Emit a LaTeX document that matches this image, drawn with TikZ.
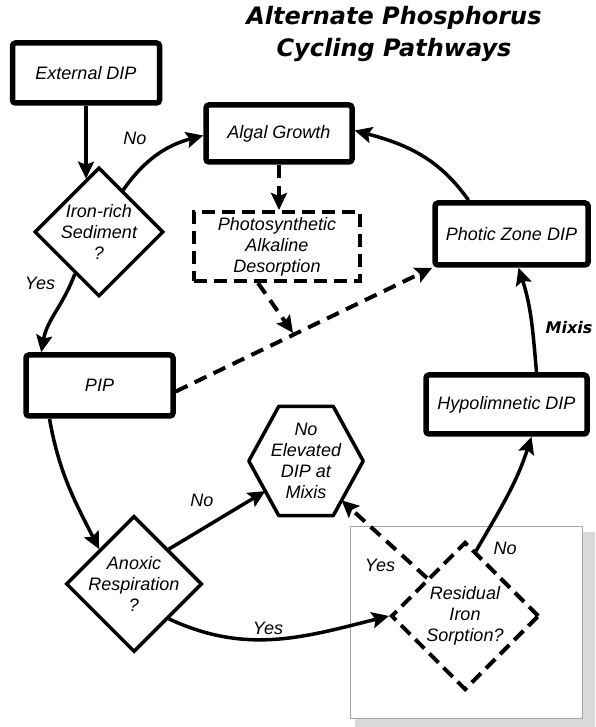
\documentclass[tikz,border=0pt]{standalone}
\usepackage{fontspec}
\setmainfont{Liberation Sans}
\newfontfamily\titlefont{DejaVu Sans}
\usetikzlibrary{arrows.meta,shapes.geometric,calc}
\tikzset{
  txt/.style={font=\itshape\fontsize{18}{21}\selectfont, align=center},
  box/.style={txt, draw, line width=5.5pt, rounded corners=3pt, inner sep=0pt},
  dbox/.style={txt, draw, line width=4pt, dash pattern=on 13pt off 7pt, inner sep=0pt},
  dia/.style={draw, diamond, line width=3.5pt, inner sep=0pt, minimum width=#1, minimum height=#1},
  ddia/.style={dia=#1, line width=4pt, dash pattern=on 13pt off 7pt},
  dtext/.style={label={[txt]center:#1}},
  conn/.style={line width=3.5pt, -{Stealth[length=17pt,width=16pt,inset=3pt]}},
  dconn/.style={conn, line width=4pt, dash pattern=on 13pt off 8pt},
  lbl/.style={txt},
  ttl/.style={font=\titlefont\bfseries\itshape\fontsize{24}{30}\selectfont},
}
\begin{document}
\begin{tikzpicture}[x=1pt,y=1pt]
\fill[white] (0,0) rectangle (595,727);
\useasboundingbox (0,0) rectangle (595,727);
% faint scanned frame
\fill[gray!30] (582,0) rectangle (595,195);
\fill[gray!30] (355,0) rectangle (595,9);
\draw[gray!70, line width=0.6pt] (350,9) rectangle (582,201);

% title
\node[ttl] (t1) at (394,709) {Alternate Phosphorus};
\node[ttl] (t2) at (394,677) {Cycling Pathways};

% nodes
\node[box, minimum width=147pt, minimum height=60pt] (ext) at (86,654) {External DIP};
\node[box, minimum width=146pt, minimum height=57pt] (algal) at (279,593.5) {Algal Growth};
\node[dbox, minimum width=166pt, minimum height=69pt] (photo) at (277,480.5) {Photosynthetic\\Alkaline\\Desorption};
\node[dia=129pt, dtext={Iron-rich\\Sediment\\?}] (iron) at (99,495) {};
\node[box, minimum width=153pt, minimum height=62pt] (photic) at (511.5,493) {Photic Zone DIP};
\node[box, minimum width=147pt, minimum height=61pt] (pip) at (99.5,341.5) {PIP};
\node[txt, minimum width=114pt, minimum height=109pt, inner sep=0pt] (hex) at (306,266) {No\\Elevated\\DIP at\\Mixis};
\draw[line width=3.5pt, line join=round] (hex.west) -- ([xshift=30pt]hex.north west) -- ([xshift=-30pt]hex.north east) -- (hex.east) -- ([xshift=-30pt]hex.south east) -- ([xshift=30pt]hex.south west) -- cycle;
\node[box, minimum width=161pt, minimum height=59pt] (hypo) at (506.5,322.5) {Hypolimnetic DIP};
\node[dia=136pt, dtext={Anoxic\\Respiration\\?}] (anox) at (134,143) {};
\node[ddia=148pt, dtext={Residual\\Iron\\Sorption?}] (resid) at (465,111) {};

\coordinate (hexbl) at ($(hex.west)!0.55!([xshift=30pt]hex.south west)$);
\coordinate (hexbr) at ($(hex.east)!0.72!([xshift=-30pt]hex.south east)$);
\coordinate (mrg) at (293,394);

% connectors
\draw[conn] (ext.south) -- ([xshift=-13pt,yshift=-13pt]iron.north);
\draw[conn] (iron.60) to[out=55, in=195] ([yshift=-2pt]algal.west);
\node[lbl] (lno1) at (135,589) {No};
\draw[conn] (iron.240) to[out=250, in=80] ([xshift=18pt]pip.north west);
\node[lbl] (lyes1) at (40,444) {Yes};
\draw[dconn] (algal.south) -- (algal.south |- photo.north);
\draw[conn] ([xshift=-43pt]photic.north) to[out=125, in=-15] ([yshift=3pt]algal.east);
\draw[dconn] ([xshift=-19pt]photo.south) -- (mrg);
\draw[dconn] ([yshift=-6pt]pip.east) -- (photic.south west);
\draw[conn] ([xshift=-50pt]pip.south) to[out=-80, in=117] (anox.north west);
\draw[conn] (anox.north east) -- (hexbl);
\node[lbl] (lno2) at (202,227) {No};
\draw[conn] (anox.south east) to[out=-25, in=194] (resid.west);
\node[lbl] (lyes2) at (268,99) {Yes};
\draw[dconn] (resid.north west) -- (hexbr);
\node[lbl] (lyes3) at (380,162) {Yes};
\draw[conn] ([xshift=11pt,yshift=-11pt]resid.north) to[out=60, in=-108] ([xshift=25pt]hypo.south);
\node[lbl] (lno3) at (505,179) {No};
\draw[conn] ([xshift=30pt]hypo.north) to[out=95, in=-72] ([xshift=7pt]photic.south);
\node[font=\titlefont\bfseries\itshape\fontsize{16}{19}\selectfont] (lmix) at (569,399) {Mixis};
\end{tikzpicture}
\end{document}
